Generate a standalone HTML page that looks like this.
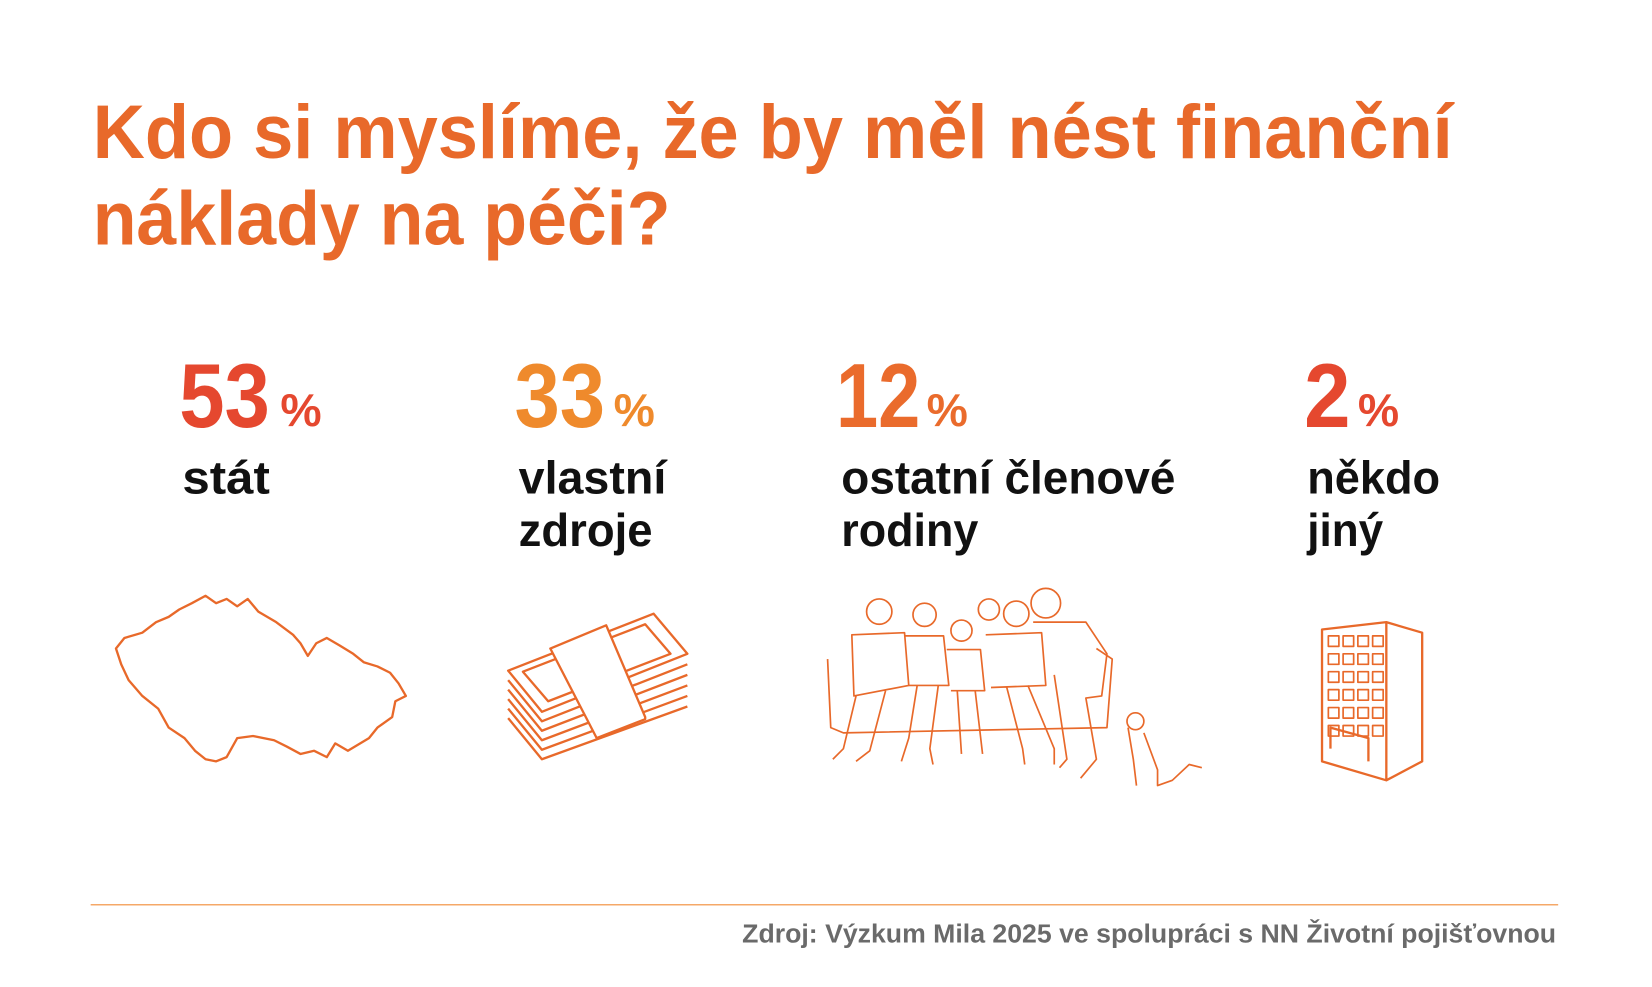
<!DOCTYPE html>
<html><head><meta charset="utf-8"><style>
html,body{margin:0;padding:0;background:#fff;}
svg{display:block;}
text{font-family:"Liberation Sans",sans-serif;font-weight:bold;}
</style></head><body>
<svg width="1652" height="987" viewBox="0 0 1567 936" preserveAspectRatio="none" xmlns="http://www.w3.org/2000/svg">
<rect width="1567" height="936" fill="#fff"/>
<text x="88" y="150" font-size="72" fill="#e8692a" textLength="1290" lengthAdjust="spacingAndGlyphs">Kdo si myslíme, že by měl nést finanční</text>
<text x="88" y="232" font-size="72" fill="#e8692a" textLength="548" lengthAdjust="spacingAndGlyphs">náklady na péči?</text>

<g font-size="86">
<text x="170" y="405" fill="#e5482f" textLength="86" lengthAdjust="spacingAndGlyphs">53</text>
<text x="488" y="405" fill="#ef8a2c" textLength="86" lengthAdjust="spacingAndGlyphs">33</text>
<text x="793" y="405" fill="#ea6b2c" textLength="80" lengthAdjust="spacingAndGlyphs">12</text>
<text x="1237" y="405" fill="#e5482f" textLength="44" lengthAdjust="spacingAndGlyphs">2</text>
</g>
<g font-size="44">
<text x="266" y="404" fill="#e5482f">%</text>
<text x="582" y="404" fill="#ef8a2c">%</text>
<text x="879" y="404" fill="#ea6b2c">%</text>
<text x="1288" y="404" fill="#e5482f">%</text>
</g>
<g font-size="44" fill="#111">
<text x="173" y="468" textLength="83" lengthAdjust="spacingAndGlyphs">stát</text>
<text x="492" y="468" textLength="140" lengthAdjust="spacingAndGlyphs">vlastní</text>
<text x="492" y="518" textLength="127" lengthAdjust="spacingAndGlyphs">zdroje</text>
<text x="798" y="468" textLength="317" lengthAdjust="spacingAndGlyphs">ostatní členové</text>
<text x="798" y="518" textLength="130" lengthAdjust="spacingAndGlyphs">rodiny</text>
<text x="1240" y="468" textLength="126" lengthAdjust="spacingAndGlyphs">někdo</text>
<text x="1240" y="518" textLength="72" lengthAdjust="spacingAndGlyphs">jiný</text>
</g>

<g fill="none" stroke="#e8692a" stroke-width="2.2" stroke-linejoin="round">
<path d="M110,615 L118,605 L135,600 L148,590 L160,585 L170,578 L182,572 L195,565 L205,572 L215,568 L225,575 L235,568 L245,580 L262,590 L278,602 L285,610 L292,622 L300,610 L310,605 L322,612 L335,620 L345,628 L358,632 L370,638 L378,648 L385,660 L375,665 L372,680 L358,690 L350,700 L330,712 L318,705 L310,718 L298,712 L285,715 L272,708 L260,702 L240,698 L225,700 L215,718 L205,722 L195,720 L185,712 L175,700 L160,690 L150,672 L135,660 L122,645 L115,630 Z"/>
<g>
<path d="M482,636 L620,582 L652,620 L514,675 Z"/>
<path d="M482,645 L514,684 L652,630"/>
<path d="M482,654 L514,693 L652,640"/>
<path d="M482,663 L514,702 L652,650"/>
<path d="M482,672 L514,711 L652,660"/>
<path d="M482,681 L514,720 L652,670"/>
<path d="M496,637 L612,592 L636,620 L520,665 Z"/>
<path d="M522,615 L575,593 L612,680 L612,682 L566,700 Z" fill="#fff"/>
</g>
<g stroke-width="1.6">
<path d="M785,625 L788,690 L800,695 L1050,690 L1055,625 L1040,615"/>
<circle cx="834" cy="580" r="12"/><path d="M808,602 L858,600 L862,650 L810,660 Z M812,660 L800,710 L790,720 M840,655 L825,712 L812,722"/>
<circle cx="877" cy="583" r="11"/><path d="M858,603 L895,603 L900,650 L862,650 M870,650 L862,700 L855,722 M890,650 L882,710 L885,725"/>
<circle cx="912" cy="598" r="10"/><path d="M898,616 L930,616 L934,655 L902,655 M908,655 L912,715 M925,655 L932,715"/>
<circle cx="938" cy="578" r="10"/><circle cx="964" cy="582" r="12"/><path d="M935,602 L988,600 L992,650 L940,652 M955,652 L970,710 L972,725 M975,650 L1000,710 L1000,725"/>
<circle cx="992" cy="572" r="14"/><path d="M980,590 L1030,590 L1050,620 L1045,660 L1030,662 L1040,720 L1025,738 M1000,640 L1012,720 L1005,728"/>
<circle cx="1077" cy="684" r="8"/><path d="M1070,690 L1075,720 L1078,745 M1085,695 L1098,730 L1098,745 L1112,740 L1128,725 L1140,728"/>
</g>
<path d="M1254,597 L1315,590 L1349,600 L1349,722 L1315,740 L1254,722 Z M1315,590 L1315,740 M1262,710 L1262,690 L1298,700 L1298,722"/>
<g stroke-width="1.6">
<path d="M1260,603 h10 v10 h-10 z M1274,603 h10 v10 h-10 z M1288,603 h10 v10 h-10 z M1302,603 h10 v10 h-10 z"/>
<path d="M1260,620 h10 v10 h-10 z M1274,620 h10 v10 h-10 z M1288,620 h10 v10 h-10 z M1302,620 h10 v10 h-10 z"/>
<path d="M1260,637 h10 v10 h-10 z M1274,637 h10 v10 h-10 z M1288,637 h10 v10 h-10 z M1302,637 h10 v10 h-10 z"/>
<path d="M1260,654 h10 v10 h-10 z M1274,654 h10 v10 h-10 z M1288,654 h10 v10 h-10 z M1302,654 h10 v10 h-10 z"/>
<path d="M1260,671 h10 v10 h-10 z M1274,671 h10 v10 h-10 z M1288,671 h10 v10 h-10 z M1302,671 h10 v10 h-10 z"/>
<path d="M1260,688 h10 v10 h-10 z M1274,688 h10 v10 h-10 z M1288,688 h10 v10 h-10 z M1302,688 h10 v10 h-10 z"/>
</g>
</g>

<line x1="86" y1="858" x2="1478" y2="858" stroke="#f5a868" stroke-width="1.5"/>
<text x="1476" y="894" font-size="25" fill="#6a6a6a" text-anchor="end" textLength="772" lengthAdjust="spacingAndGlyphs">Zdroj: Výzkum Mila 2025 ve spolupráci s NN Životní pojišťovnou</text>
</svg>
</body></html>
